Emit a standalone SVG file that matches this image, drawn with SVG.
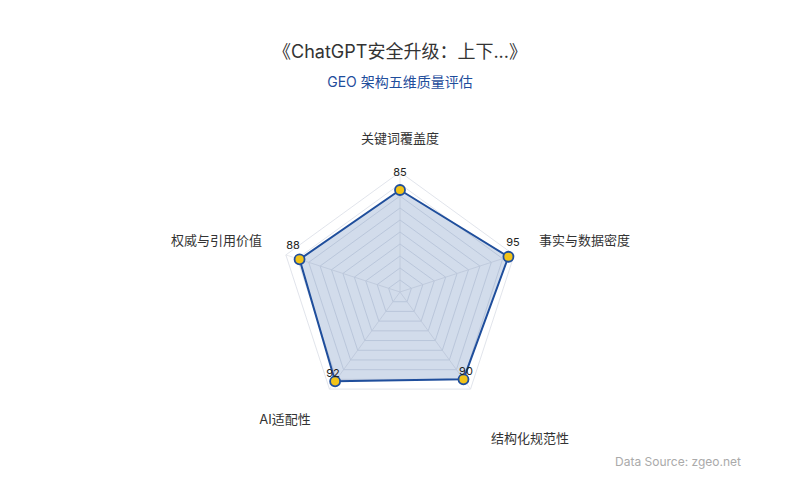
<svg xmlns="http://www.w3.org/2000/svg" width="800" height="500" viewBox="0 0 800 500">
<style>
text{font-family:Inter,"Noto Sans CJK SC",sans-serif}
.g{fill:none;stroke:#d9dde6;stroke-width:0.8}
.ax{stroke:#e3e5ea;stroke-width:0.8}
.lab{font-size:13px;fill:#333}
.v{font-size:11px;fill:#222;text-anchor:middle}
.dot{fill:#f2c318;stroke:#1f4e9c;stroke-width:1.8}
</style>
<rect width="800" height="500" fill="#fff"/>
<text x="400" y="58" text-anchor="middle" font-size="18" fill="#333">《ChatGPT安全升级：上下...》</text>
<text x="400" y="87" text-anchor="middle" font-size="14" fill="#1f4e9c">GEO 架构五维质量评估</text>
<g id="grid">
<polygon class="g" points="400,172 514.13,254.92 470.54,389.08 329.46,389.08 285.87,254.92"/>
<polygon class="g" points="400,184 502.72,258.63 463.48,379.37 336.52,379.37 297.28,258.63"/>
<polygon class="g" points="400,196 491.31,262.34 456.43,369.66 343.57,369.66 308.69,262.34"/>
<polygon class="g" points="400,208 479.89,266.04 449.38,359.96 350.62,359.96 320.11,266.04"/>
<polygon class="g" points="400,220 468.48,269.75 442.32,350.25 357.68,350.25 331.52,269.75"/>
<polygon class="g" points="400,232 457.07,273.46 435.27,340.54 364.73,340.54 342.93,273.46"/>
<polygon class="g" points="400,244 445.65,277.17 428.21,330.83 371.79,330.83 354.35,277.17"/>
<polygon class="g" points="400,256 434.24,280.88 421.16,321.12 378.84,321.12 365.76,280.88"/>
<polygon class="g" points="400,268 422.83,284.58 414.11,311.42 385.89,311.42 377.17,284.58"/>
<polygon class="g" points="400,280 411.41,288.29 407.05,301.71 392.95,301.71 388.59,288.29"/>
<line class="ax" x1="400" y1="292" x2="400" y2="172"/>
<line class="ax" x1="400" y1="292" x2="514.13" y2="254.92"/>
<line class="ax" x1="400" y1="292" x2="470.54" y2="389.08"/>
<line class="ax" x1="400" y1="292" x2="329.46" y2="389.08"/>
<line class="ax" x1="400" y1="292" x2="285.87" y2="254.92"/>
</g>
<g id="series">
<polygon points="400,190 508.42,256.77 463.48,379.37 335.11,381.31 299.56,259.37" fill="#1f4e9c" fill-opacity="0.2" stroke="#1f4e9c" stroke-width="2" stroke-linejoin="round"/>
<circle class="dot" cx="400" cy="190" r="5"/>
<circle class="dot" cx="508.42" cy="256.77" r="5"/>
<circle class="dot" cx="463.48" cy="379.37" r="5"/>
<circle class="dot" cx="335.11" cy="381.31" r="5"/>
<circle class="dot" cx="299.56" cy="259.37" r="5"/>
<text class="v" x="400" y="176">85</text>
<text class="v" x="513" y="246">95</text>
<text class="v" x="466" y="375">90</text>
<text class="v" x="333" y="377">92</text>
<text class="v" x="293" y="249">88</text>
</g>
<g id="labels">
<text class="lab" x="400" y="143" text-anchor="middle">关键词覆盖度</text>
<text class="lab" x="539" y="245">事实与数据密度</text>
<text class="lab" x="530" y="443" text-anchor="middle">结构化规范性</text>
<text class="lab" x="285" y="424" text-anchor="middle">AI适配性</text>
<text class="lab" x="262" y="245" text-anchor="end">权威与引用价值</text>
</g>
<text x="741" y="466" text-anchor="end" font-size="12" fill="#aaa">Data Source: zgeo.net</text>
</svg>
